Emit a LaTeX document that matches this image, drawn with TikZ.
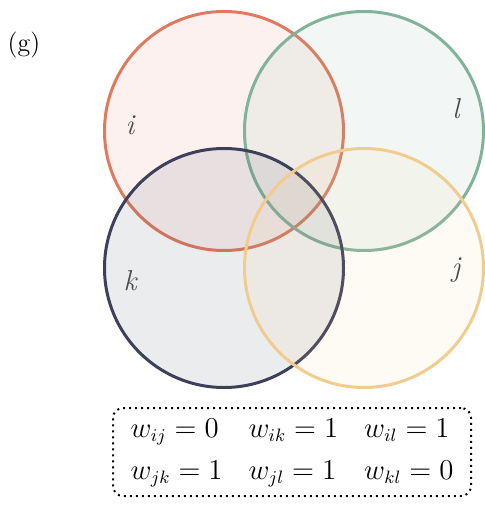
\documentclass[tikz,border=0pt]{standalone}
\usepackage{xcolor}
\definecolor{vennOrange}{HTML}{E07A5F}
\definecolor{vennGreen}{HTML}{81B29A}
\definecolor{vennNavy}{HTML}{3D405B}
\definecolor{vennSand}{HTML}{F2CC8F}
\definecolor{labelGray}{HTML}{4A4A4A}
\begin{document}
\begin{tikzpicture}[x=0.5pt, y=-0.5pt,
  vennset/.style={circle, draw=#1, fill=#1, fill opacity=0.1, draw opacity=1,
    line width=1.5pt, minimum size=239pt*0.5, inner sep=0pt},
  setlabel/.style={text=labelGray, font=\Large\itshape}]
\useasboundingbox (0,0) rectangle (484,507);
\node[font=\fontsize{13}{15}\selectfont] (tag) at (24,45) {(g)};
% the four sets
\node[vennset=vennOrange] (setI) at (224,131) {};
\node[vennset=vennGreen]  (setL) at (364,131) {};
\node[vennset=vennNavy]   (setK) at (224,268) {};
\node[vennset=vennSand]   (setJ) at (364,268) {};
\node[setlabel] (labI) at (130,125) {i};
\node[setlabel] (labL) at (456,109) {l};
\node[setlabel] (labK) at (130,281) {k};
\node[setlabel] (labJ) at (456,270) {j};
% weights
\node[draw, dotted, line width=1pt, rounded corners=5pt, minimum width=179pt,
  minimum height=44pt, inner sep=0pt, font=\fontsize{13.5}{16}\selectfont] (weights) at (292,452)
  {\begin{tabular}{@{}l@{\hspace{13pt}}l@{\hspace{13pt}}l@{}}
   $w_{ij}=0$ & $w_{ik}=1$ & $w_{il}=1$\\[5pt]
   $w_{jk}=1$ & $w_{jl}=1$ & $w_{kl}=0$
   \end{tabular}};
\end{tikzpicture}
\end{document}
